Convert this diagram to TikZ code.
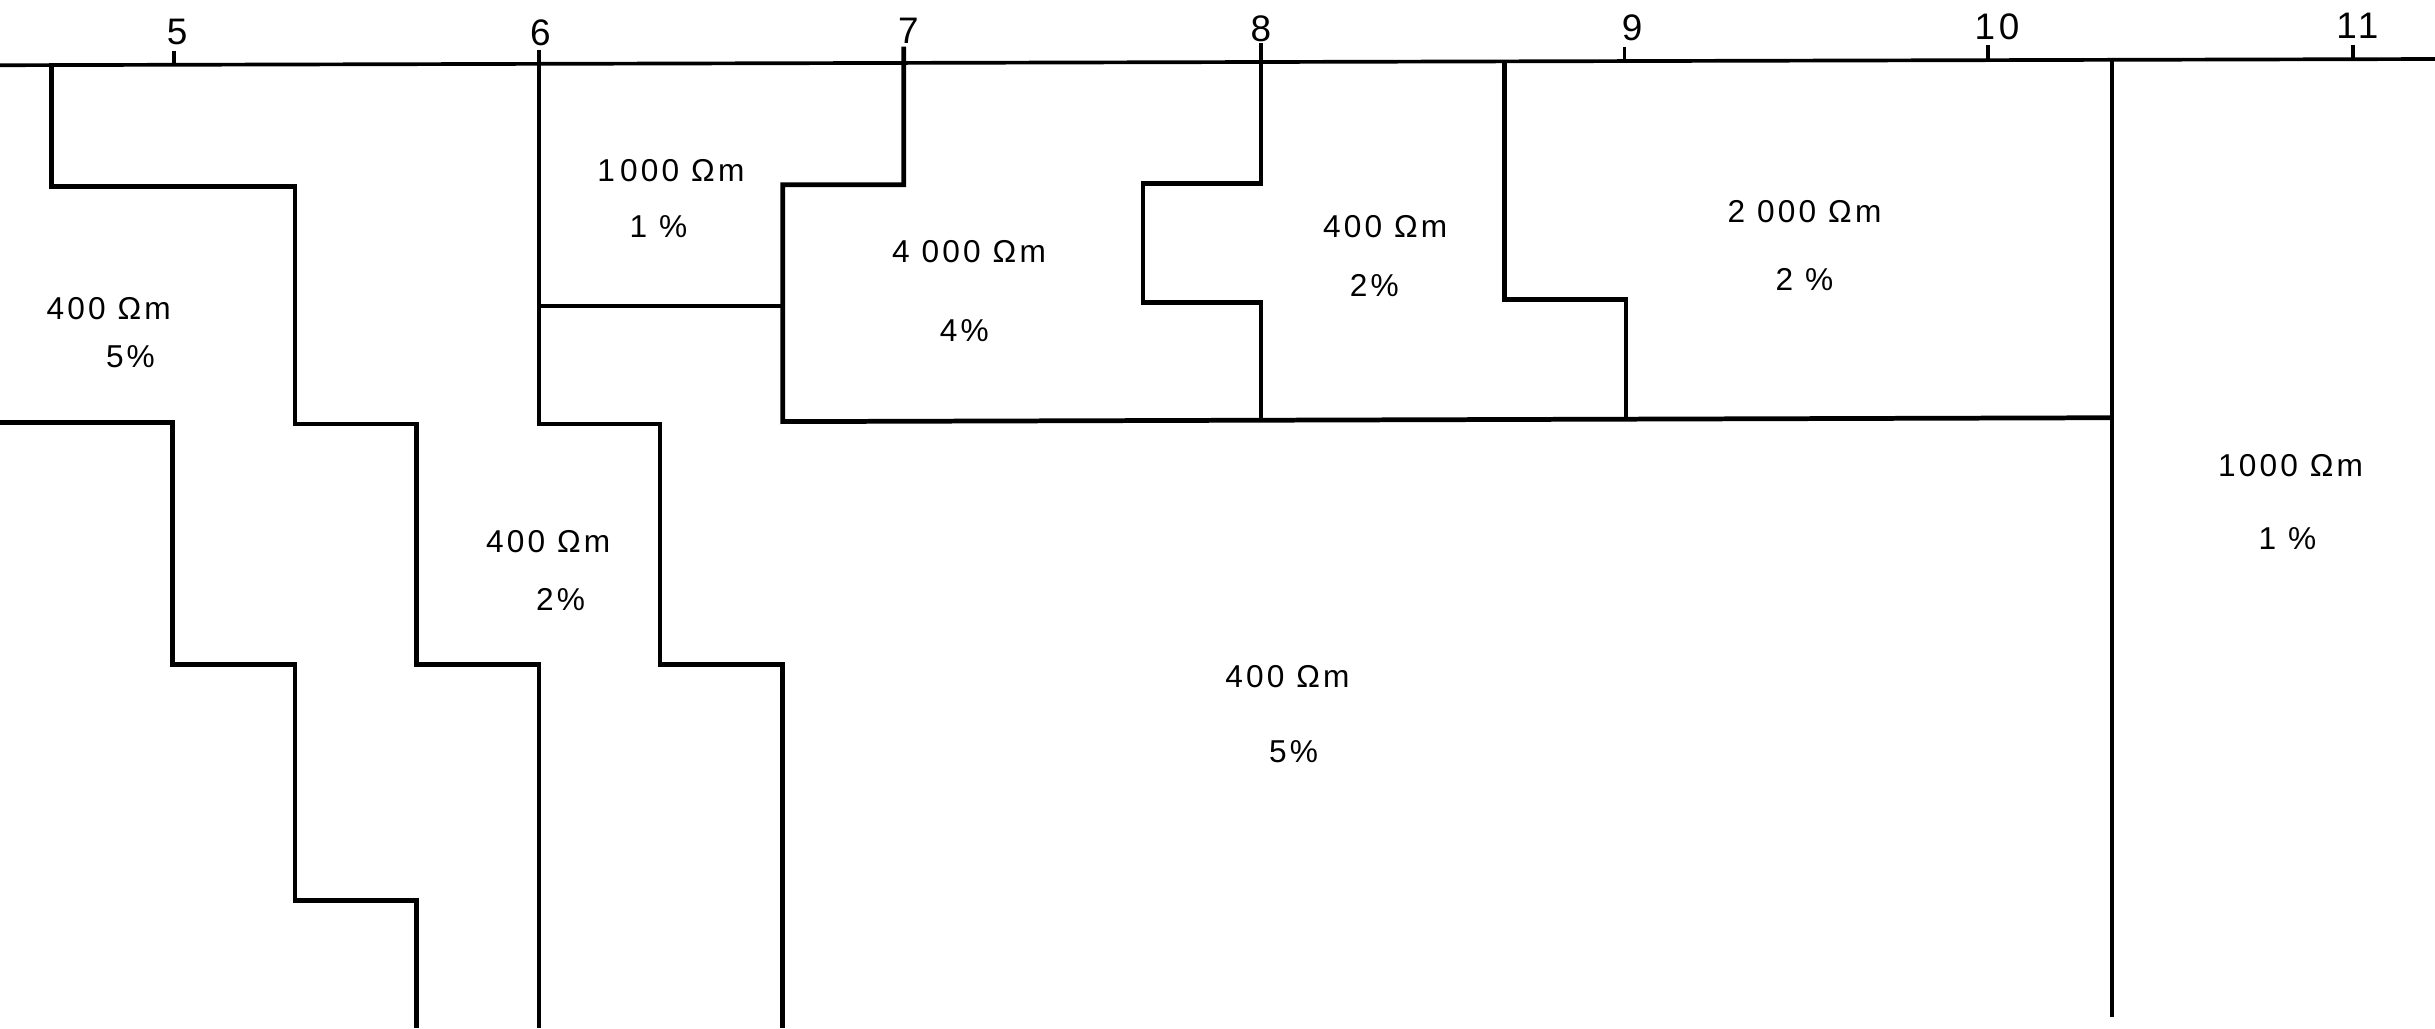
\documentclass[tikz,border=0pt]{standalone}
\usepackage{fontspec}
\setmainfont{Liberation Sans}[LetterSpace=10]
\begin{document}
\begin{tikzpicture}[x=0.1553mm,y=-0.1553mm,
  bnd/.style={line width=1.35pt,line join=miter},
  axisline/.style={line width=1.05pt},
  lbl/.style={font=\fontsize{9}{10}\selectfont,inner sep=0pt},
  ticklbl/.style={font=\fontsize{10.5}{11}\selectfont,inner sep=0pt}]
\useasboundingbox (0,0) rectangle (1568,662);
\fill[white] (0,0) rectangle (1568,662);
% axis
\draw[axisline] (0,42) -- (1568,38);
\draw[axisline] (112,33) -- (112,42);
\draw[axisline] (1046,30) -- (1046,39.5);
\draw[axisline] (1280,29) -- (1280,39);
\draw[axisline] (1515,29) -- (1515,38);
\node[ticklbl] (t5) at (114,20.5) {5};
\node[ticklbl] (t6) at (348,21) {6};
\node[ticklbl] (t7) at (585,20) {7};
\node[ticklbl] (t8) at (812,18.5) {8};
\node[ticklbl] (t9) at (1051,18) {9};
\node[ticklbl] (t10) at (1286,17) {10};
\node[ticklbl] (t11) at (1518,16.5) {11};
% boundaries
\draw[bnd] (33,42) -- (33,120) -- (190,120) -- (190,273) -- (268,273) -- (268,428) -- (347,428) -- (347,662);
\draw[bnd] (0,272) -- (111,272) -- (111,428) -- (190,428) -- (190,580) -- (268,580) -- (268,662);
\draw[bnd] (347,32) -- (347,273) -- (425,273) -- (425,428) -- (504,428) -- (504,662);
\draw[bnd] (347,197) -- (504,197);
\draw[bnd] (582,30) -- (582,119) -- (504,119) -- (504,271.5) -- (1360,269);
\draw[bnd] (812,28) -- (812,118) -- (736,118) -- (736,195) -- (812,195) -- (812,271);
\draw[bnd] (969,39.5) -- (969,193) -- (1047,193) -- (1047,270);
\draw[bnd] (1360,39) -- (1360,655);
% labels
\node[lbl] (r1) at (432,110) {1\,000 Ωm};
\node[lbl] (p1) at (424,146) {1 \%};
\node[lbl] (r2) at (70,199) {400 Ωm};
\node[lbl] (p2) at (84,230) {5\%};
\node[lbl] (r3) at (624,162) {4 000 Ωm};
\node[lbl] (p3) at (621,213) {4\%};
\node[lbl] (r4) at (892,146) {400 Ωm};
\node[lbl] (p4) at (885,184) {2\%};
\node[lbl] (r5) at (1162,136) {2 000 Ωm};
\node[lbl] (p5) at (1162,180) {2 \%};
\node[lbl] (r6) at (353,349) {400 Ωm};
\node[lbl] (p6) at (361,386) {2\%};
\node[lbl] (r7) at (829,436) {400 Ωm};
\node[lbl] (p7) at (833,484) {5\%};
\node[lbl] (r8) at (1475,300) {1000 Ωm};
\node[lbl] (p8) at (1473,347) {1 \%};
\end{tikzpicture}
\end{document}
